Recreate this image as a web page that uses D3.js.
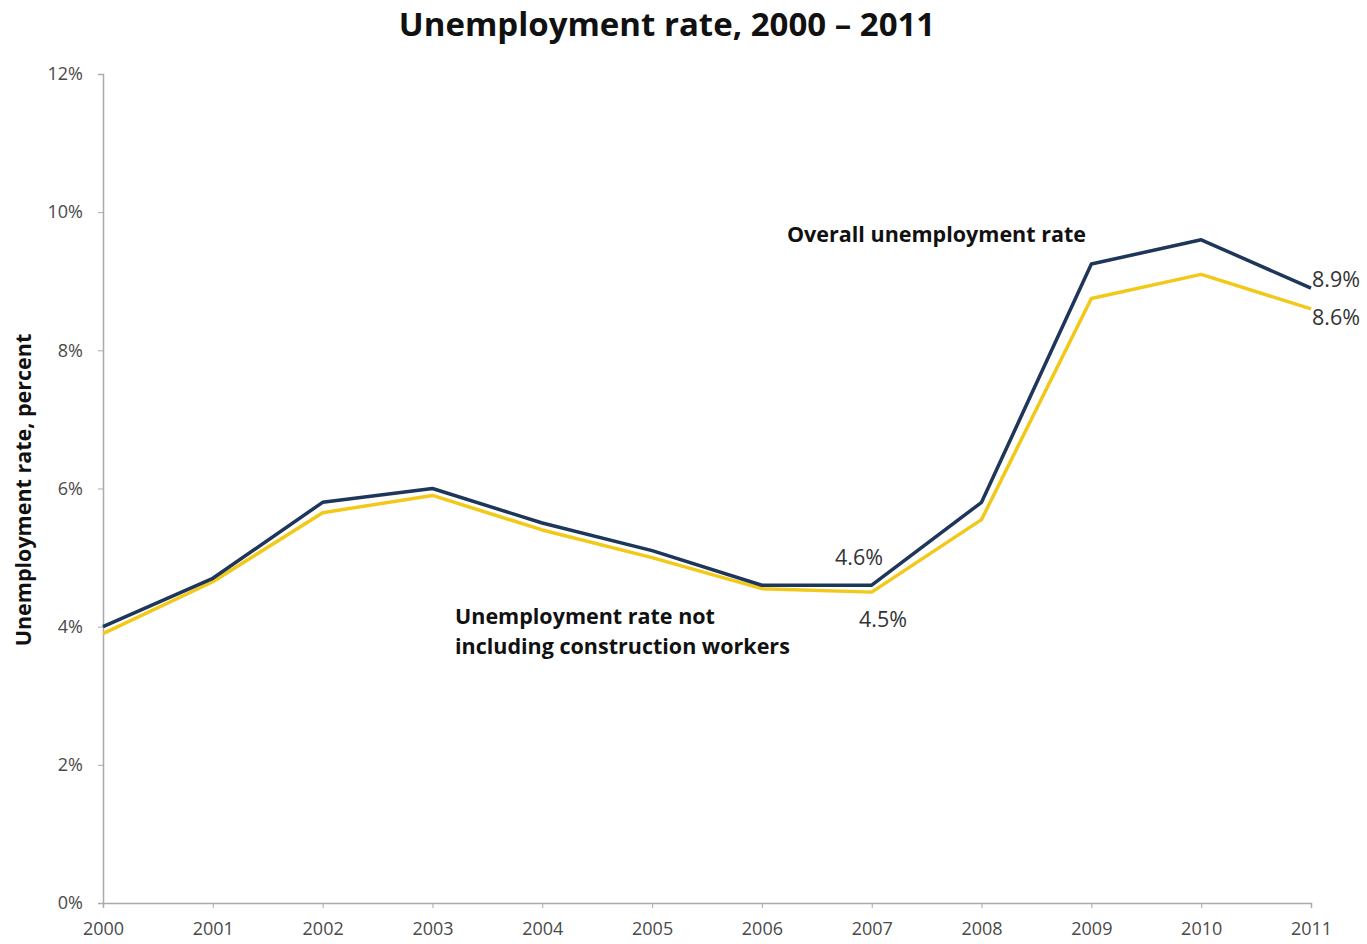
<!DOCTYPE html>
<html>
<head>
<meta charset="utf-8">
<script src="https://cdn.jsdelivr.net/npm/d3@7"></script>
<style>
  body { margin: 0; background: #fff; }
  svg text { font-family: "Open Sans", "Noto Sans", sans-serif; }
</style>
</head>
<body>
<div id="chart"></div>
<script>
// data
const years = [2000, 2001, 2002, 2003, 2004, 2005, 2006, 2007, 2008, 2009, 2010, 2011];
const overall = [4.0, 4.7, 5.8, 6.0, 5.5, 5.1, 4.6, 4.6, 5.8, 9.25, 9.6, 8.9];
const noConstruction = [3.9, 4.65, 5.65, 5.9, 5.4, 5.0, 4.55, 4.5, 5.55, 8.75, 9.1, 8.6];
const yTicks = [0, 2, 4, 6, 8, 10, 12];

const w = 1367, h = 944;
const margin = {left: 103, right: 56, top: 74, bottom: 41};

const svg = d3.select("#chart").append("svg")
  .attr("width", w)
  .attr("height", h);

const x = d3.scaleLinear()
  .domain([2000, 2011])
  .range([margin.left, w - margin.right]);

const y = d3.scaleLinear()
  .domain([0, 12])
  .range([h - margin.bottom, margin.top]);

// axes
const xAxis = svg.append("g")
  .attr("transform", `translate(0,${h - margin.bottom})`)
  .call(d3.axisBottom(x).tickValues(years).tickFormat(d3.format("d")).tickSize(5).tickPadding(14));

const yAxis = svg.append("g")
  .attr("transform", `translate(${margin.left},0)`)
  .call(d3.axisLeft(y).tickValues(yTicks).tickFormat(d => d + "%").tickSize(5).tickPadding(15));

[xAxis, yAxis].forEach(a => {
  a.select(".domain").attr("stroke", "#aaa").attr("stroke-width", 1.5);
  a.selectAll(".tick line").attr("stroke", "#aaa");
  a.selectAll(".tick text")
    .attr("fill", "#4a4a4a")
    .style("font-size", "18px");
});

// lines
const line = d3.line()
  .x((d, i) => x(years[i]))
  .y(d => y(d));

svg.append("path")
  .datum(noConstruction)
  .attr("fill", "none")
  .attr("stroke", "#f2c919")
  .attr("stroke-width", 3.5)
  .attr("stroke-linejoin", "round")
  .attr("d", line);

svg.append("path")
  .datum(overall)
  .attr("fill", "none")
  .attr("stroke", "#1d3659")
  .attr("stroke-width", 3.5)
  .attr("stroke-linejoin", "round")
  .attr("d", line);

// title
svg.append("text")
  .attr("x", 667)
  .attr("y", 36)
  .attr("text-anchor", "middle")
  .attr("font-weight", "bold")
  .style("font-size", "33px")
  .attr("fill", "#111")
  .text("Unemployment rate, 2000 \u2013 2011");

// y label
svg.append("text")
  .attr("transform", `translate(31,490)rotate(-90)`)
  .attr("text-anchor", "middle")
  .attr("font-weight", "bold")
  .style("font-size", "21.5px")
  .attr("fill", "#111")
  .text("Unemployment rate, percent");

// annotations
svg.append("text")
  .attr("x", 787)
  .attr("y", 242)
  .attr("font-weight", "bold")
  .style("font-size", "21.5px")
  .attr("fill", "#111")
  .text("Overall unemployment rate");

const note = svg.append("text")
  .attr("x", 455)
  .attr("y", 624)
  .attr("font-weight", "bold")
  .style("font-size", "21.5px")
  .attr("fill", "#111");
note.append("tspan").attr("x", 455).text("Unemployment rate not");
note.append("tspan").attr("x", 455).attr("dy", 30).text("including construction workers");

const valueLabels = [
  {t: "4.6%", x: 835, y: 565},
  {t: "4.5%", x: 859, y: 627},
  {t: "8.9%", x: 1312, y: 287},
  {t: "8.6%", x: 1312, y: 325}
];
svg.selectAll(".vlabel")
  .data(valueLabels)
  .enter()
  .append("text")
  .attr("class", "vlabel")
  .attr("x", d => d.x)
  .attr("y", d => d.y)
  .style("font-size", "21.5px")
  .attr("fill", "#333")
  .text(d => d.t);
</script>
</body>
</html>
